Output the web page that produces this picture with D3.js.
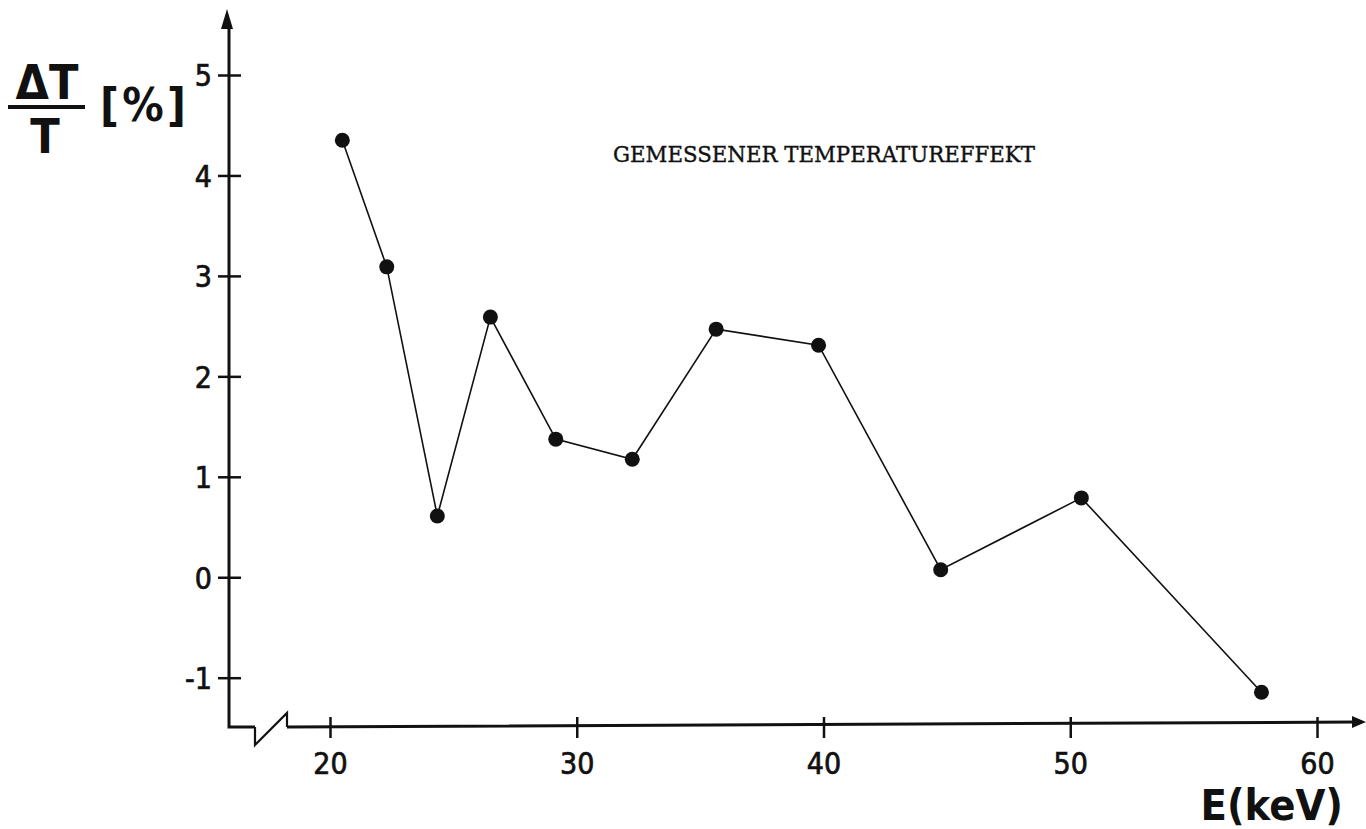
<!DOCTYPE html>
<html>
<head>
<meta charset="utf-8">
<script src="https://cdn.jsdelivr.net/npm/d3@7"></script>
<style>
  body { margin: 0; background: #fff; }
  svg { display: block; }
  .tick text { font-family: "DejaVu Sans Condensed", "DejaVu Sans", sans-serif; font-stretch: condensed; font-size: 30px; fill: #111; stroke: #111; stroke-width: 0.7px; }
</style>
</head>
<body>
<div id="grafica"></div>
<script>
// energie in keV und gemessener effekt in %
var energie = [20.5, 22.3, 24.35, 26.5, 29.15, 32.25, 35.65, 39.8, 44.75, 50.45, 57.75];
var effekt = [4.35, 3.09, 0.61, 2.59, 1.375, 1.175, 2.47, 2.31, 0.075, 0.79, -1.145];
var xTicks = [20, 30, 40, 50, 60];
var yTicks = [-1, 0, 1, 2, 3, 4, 5];

var width = 1366, height = 829;
var axisX = 229, axisY = 727;

var svg = d3.select("#grafica").append("svg")
    .attr("width", width)
    .attr("height", height);

var x = d3.scaleLinear().domain([20, 60]).range([330, 1317]);
var y = d3.scaleLinear().domain([-1, 5]).range([677.7, 75]);

// y achse
var yAxis = svg.append("g")
    .attr("transform", "translate(" + axisX + ",0)")
    .call(d3.axisLeft(y).tickValues(yTicks).tickSize(11).tickPadding(6)
        .tickFormat(function(d) { return d < 0 ? "-" + Math.abs(d) : d; }));
yAxis.select(".domain").remove();
yAxis.selectAll(".tick line").attr("x1", 12).attr("x2", -11)
    .attr("stroke", "#111").attr("stroke-width", 2.5);
yAxis.selectAll(".tick text").attr("x", -17).attr("dy", "0.36em");

// x achse
var xAxis = svg.append("g")
    .attr("transform", "translate(0," + axisY + ")")
    .call(d3.axisBottom(x).tickValues(xTicks).tickSize(11).tickPadding(15));
xAxis.select(".domain").remove();
xAxis.selectAll(".tick line").attr("y1", -10).attr("y2", 11)
    .attr("stroke", "#111").attr("stroke-width", 2.5);
xAxis.selectAll(".tick text").attr("dy", "0.71em");

// achsenlinien mit bruch und pfeilen
var achsen = "M" + axisX + ",22 L" + axisX + "," + axisY + " L255," + axisY +
    " M287," + axisY + " L1356," + (axisY - 5);
svg.append("path").attr("d", achsen)
    .attr("fill", "none").attr("stroke", "#111").attr("stroke-width", 3);
svg.append("path").attr("d", "M255," + axisY + " L255,745 L287,713 L287," + axisY)
    .attr("fill", "none").attr("stroke", "#111").attr("stroke-width", 2.2);
svg.append("path").attr("d", "M" + (axisX - 2) + ",9 L" + (axisX - 8) + ",29 L" + (axisX + 4) + ",29 Z")
    .attr("fill", "#111");
svg.append("path").attr("d", "M1366,722 L1352,716 L1352,728 Z")
    .attr("fill", "#111");

// messkurve
var punkte = energie.map(function(e, i) { return { e: e, v: effekt[i] }; });
var linie = d3.line()
    .x(function(d) { return x(d.e); })
    .y(function(d) { return y(d.v); });
svg.append("path").datum(punkte)
    .attr("d", linie)
    .attr("fill", "none")
    .attr("stroke", "#111")
    .attr("stroke-width", 1.6);
svg.selectAll("circle.punkt")
    .data(punkte)
    .enter()
        .append("circle")
        .attr("class", "punkt")
        .attr("cx", function(d) { return x(d.e); })
        .attr("cy", function(d) { return y(d.v); })
        .attr("r", 7.5)
        .attr("fill", "#111");

// beschriftungen
svg.append("text")
    .attr("x", 613).attr("y", 162)
    .attr("textLength", 422)
    .attr("lengthAdjust", "spacingAndGlyphs")
    .style("font-family", "'DejaVu Serif', 'Liberation Serif', serif")
    .style("font-size", "22px")
    .style("fill", "#111")
    .style("stroke", "#111")
    .style("stroke-width", "0.4px")
    .text("GEMESSENER TEMPERATUREFFEKT");

var achsenFont = "'DejaVu Sans Condensed', 'DejaVu Sans', sans-serif";
svg.append("text")
    .attr("x", 1343).attr("y", 820)
    .attr("text-anchor", "end")
    .style("font-family", achsenFont)
    .style("font-weight", "bold")
    .style("font-size", "43px")
    .style("fill", "#111")
    .text("E(keV)");

svg.append("text")
    .attr("x", 47).attr("y", 99)
    .attr("text-anchor", "middle")
    .style("font-family", achsenFont)
    .style("font-weight", "bold")
    .style("font-size", "48px")
    .style("fill", "#111")
    .text("ΔT");
svg.append("line")
    .attr("x1", 8).attr("x2", 85).attr("y1", 107).attr("y2", 107)
    .attr("stroke", "#111").attr("stroke-width", 4);
svg.append("text")
    .attr("x", 45).attr("y", 153)
    .attr("text-anchor", "middle")
    .style("font-family", achsenFont)
    .style("font-weight", "bold")
    .style("font-size", "48px")
    .style("fill", "#111")
    .text("T");
svg.append("text")
    .attr("x", 100).attr("y", 121)
    .attr("textLength", 86)
    .attr("lengthAdjust", "spacing")
    .style("font-family", achsenFont)
    .style("font-weight", "bold")
    .style("font-size", "46px")
    .style("fill", "#111")
    .text("[%]");
</script>
</body>
</html>
